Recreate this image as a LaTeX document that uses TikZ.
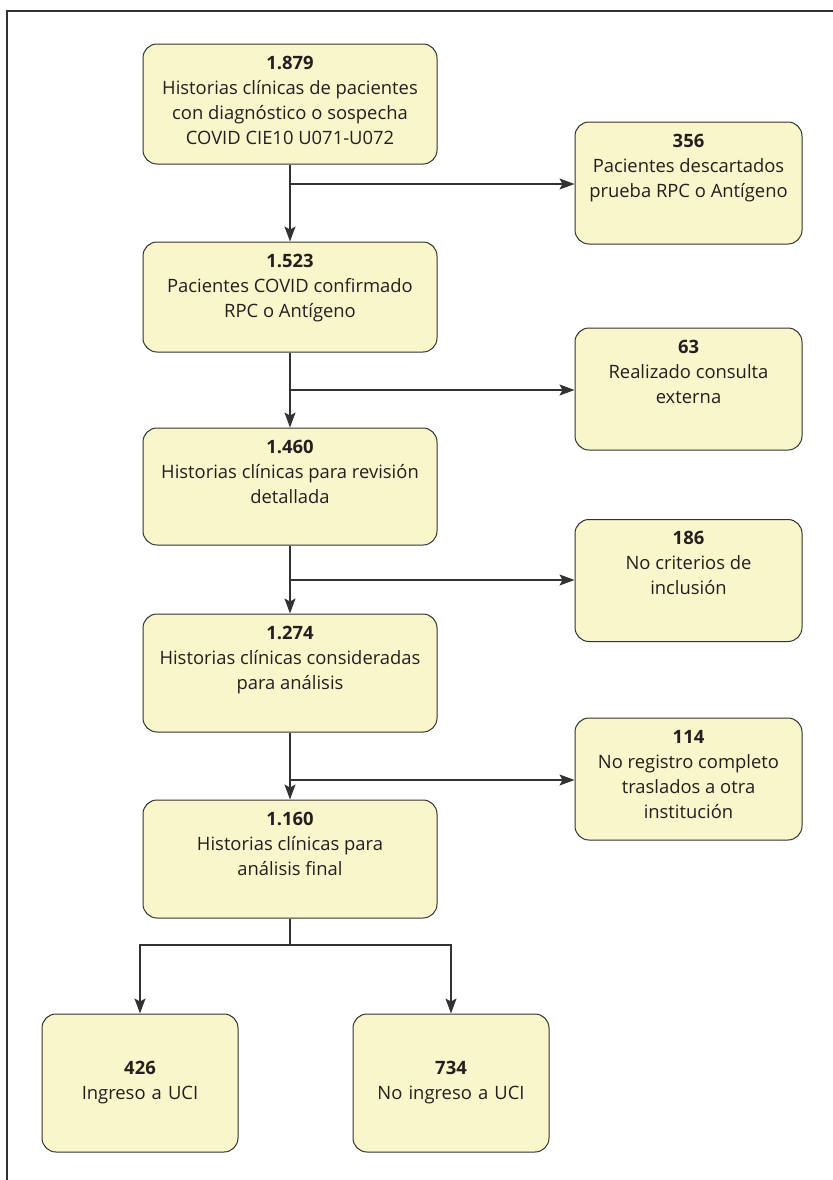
\documentclass[tikz,border=0pt]{standalone}
\usepackage{fontspec}
\setmainfont{Open Sans}
\usetikzlibrary{arrows.meta}
\definecolor{boxfill}{RGB}{248,246,202}
\definecolor{linegray}{RGB}{50,50,50}
\definecolor{textgray}{RGB}{35,31,32}

\begin{document}
\begin{tikzpicture}[x=0.5pt,y=-0.5pt,>={Stealth[length=7.5pt,width=5.5pt,inset=1.5pt]},
    caja/.style={draw=linegray,line width=0.5pt,fill=boxfill,rounded corners=7pt,
        inner sep=0pt,text=textgray,font=\fontsize{9.2}{12.5}\selectfont},
    arriba/.style 2 args={caja,
        execute at begin node={\begin{minipage}[c][#2][t]{#1}\centering\rule{0pt}{12.5pt}},
        execute at end node={\end{minipage}}},
    centro/.style={arriba={147pt}{#1}},
    lado/.style={arriba={113.5pt}{61pt}},
    final/.style={caja,align=center,text width=98pt,minimum height=69pt},
    flecha/.style={->,draw=linegray,line width=0.6pt},
    linea/.style={draw=linegray,line width=0.6pt}]
\useasboundingbox (0,0) rectangle (833,1180);
\draw[line width=0.8pt,linegray] (833,11) -- (7,11) -- (7,1180);

\node[centro=60pt] (n1) at (290,104) {\textbf{1.879}\\Historias clínicas de pacientes\\con diagnóstico o sospecha\\COVID CIE10 U071-U072};
\node[centro=55pt] (n2) at (290,297) {\textbf{1.523}\\Pacientes COVID confirmado\\RPC o Antígeno};
\node[centro=58.5pt] (n3) at (290,486.5) {\textbf{1.460}\\Historias clínicas para revisión\\detallada};
\node[centro=59pt] (n4) at (290,673) {\textbf{1.274}\\Historias clínicas consideradas\\para análisis};
\node[centro=59pt] (n5) at (290,859) {\textbf{1.160}\\Historias clínicas para\\análisis final};

\node[lado] (r1) at (688.5,183) {\textbf{356}\\Pacientes descartados\\prueba RPC o Antígeno};
\node[lado] (r2) at (688.5,389) {\textbf{63}\\Realizado consulta\\externa};
\node[lado] (r3) at (688.5,580.5) {\textbf{186}\\No criterios de\\inclusión};
\node[lado] (r4) at (688.5,779) {\textbf{114}\\No registro completo\\traslados a otra\\institución};

\node[final] (u1) at (140,1083) {\textbf{426}\\Ingreso a UCI};
\node[final] (u2) at (451,1083) {\textbf{734}\\No ingreso a UCI};

\coordinate (b1) at (290,184);
\coordinate (b2) at (290,390);
\coordinate (b3) at (290,580);
\coordinate (b4) at (290,780);
\coordinate (sep) at (290,945);

\draw[flecha] (n1) -- (n2);
\draw[flecha] (n2) -- (n3);
\draw[flecha] (n3) -- (n4);
\draw[flecha] (n4) -- (n5);
\draw[flecha] (b1) -- (b1 -| r1.west);
\draw[flecha] (b2) -- (b2 -| r2.west);
\draw[flecha] (b3) -- (b3 -| r3.west);
\draw[flecha] (b4) -- (b4 -| r4.west);
\draw[linea] (n5) -- (sep);
\draw[flecha] (sep) -| (u1);
\draw[flecha] (sep) -| (u2);
\end{tikzpicture}
\end{document}
